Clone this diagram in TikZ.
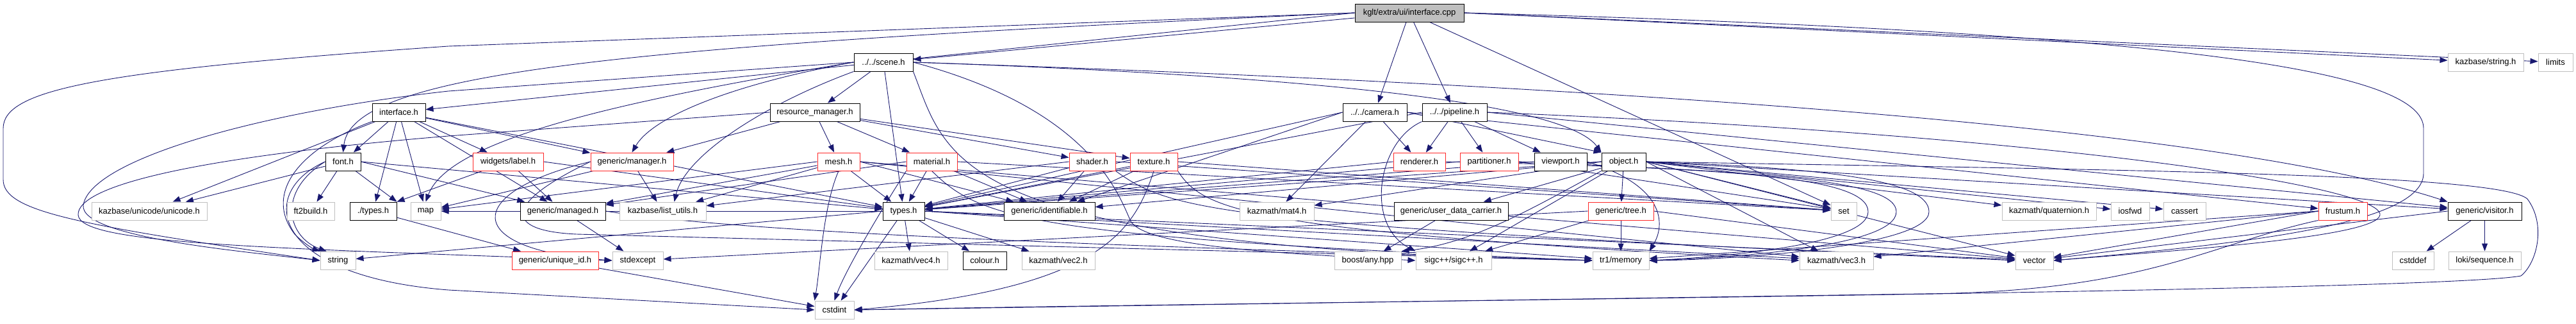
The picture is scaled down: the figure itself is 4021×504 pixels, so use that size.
\documentclass[tikz,border=0pt]{standalone}
\usepackage{fontspec}
\setmainfont{Liberation Sans}
\usetikzlibrary{arrows.meta}
\definecolor{navy}{RGB}{25,25,112}
\definecolor{lgray}{RGB}{191,191,191}
\definecolor{rootfill}{RGB}{191,191,191}
\definecolor{redb}{RGB}{255,40,40}
\pgfdeclarelayer{bg}
\pgfsetlayers{bg,main}
\tikzset{
  nbox/.style={rectangle, minimum height=28pt, inner sep=0pt, fill=white, line width=1pt, font=\fontsize{13pt}{15pt}\selectfont},
  bk/.style={nbox, draw=black},
  gr/.style={nbox, draw=lgray},
  rd/.style={nbox, draw=redb},
  rootbox/.style={nbox, draw=black, fill=rootfill},
  dep/.style={draw=navy, line width=0.9pt, -{Triangle[length=12pt,width=9pt]}}
}
\begin{document}
\begin{tikzpicture}[x=1pt,y=-1pt]
\useasboundingbox (0,0) rectangle (4021,504);
% row 0
\node[rootbox, minimum width=170pt] (cpp) at (2200,20) {kglt/extra/ui/interface.cpp};
% row 1
\node[bk, minimum width=92pt] (scene) at (1379,97) {../../scene.h};
\node[gr, minimum width=118pt] (kstring) at (3880,97) {kazbase/string.h};
\node[gr, minimum width=54pt] (limits) at (3989,97) {limits};
% row 2
\node[bk, minimum width=83pt] (interfaceh) at (622.5,175) {interface.h};
\node[bk, minimum width=140pt] (resman) at (1272,175) {resource\_manager.h};
\node[bk, minimum width=100pt] (camera) at (2146,175) {../../camera.h};
\node[bk, minimum width=101pt] (pipeline) at (2270.5,175) {../../pipeline.h};
% row 3
\node[bk, minimum width=55pt] (font) at (535.5,252) {font.h};
\node[rd, minimum width=110pt] (label) at (793,252) {widgets/label.h};
\node[rd, minimum width=129pt] (manager) at (986.5,252) {generic/manager.h};
\node[rd, minimum width=66pt] (mesh) at (1309,252) {mesh.h};
\node[rd, minimum width=79pt] (material) at (1454.5,252) {material.h};
\node[rd, minimum width=72pt] (shader) at (1705,252) {shader.h};
\node[rd, minimum width=74pt] (texture) at (1801,252) {texture.h};
\node[rd, minimum width=81pt] (renderer) at (2215.5,252) {renderer.h};
\node[rd, minimum width=91pt] (partitioner) at (2324.5,252) {partitioner.h};
\node[bk, minimum width=82pt] (viewport) at (2436,252) {viewport.h};
\node[bk, minimum width=69pt] (object) at (2534.5,252) {object.h};
% row 4
\node[gr, minimum width=180pt] (kunicode) at (233,329) {kazbase/unicode/unicode.h};
\node[gr, minimum width=74pt] (ft2build) at (485,329) {ft2build.h};
\node[bk, minimum width=73pt] (dtypes) at (582.5,329) {./types.h};
\node[gr, minimum width=47pt] (map) at (664.5,329) {map};
\node[bk, minimum width=133pt] (managed) at (878.5,329) {generic/managed.h};
\node[gr, minimum width=135pt] (listutils) at (1034.5,329) {kazbase/list\_utils.h};
\node[bk, minimum width=65pt] (types) at (1410.5,329) {types.h};
\node[bk, minimum width=142pt] (ident) at (1638,329) {generic/identifiable.h};
\node[gr, minimum width=116pt] (mat4) at (1993,329) {kazmath/mat4.h};
\node[bk, minimum width=178pt] (udc) at (2265,329) {generic/user\_data\_carrier.h};
\node[rd, minimum width=102pt] (tree) at (2530,329) {generic/tree.h};
\node[gr, minimum width=40pt] (set) at (2878,329) {set};
\node[gr, minimum width=147pt] (quat) at (3198.5,329) {kazmath/quaternion.h};
\node[gr, minimum width=60pt] (iosfwd) at (3325,329) {iosfwd};
\node[gr, minimum width=66pt] (cassert) at (3410,329) {cassert};
\node[rd, minimum width=76pt] (frustum) at (3657,329) {frustum.h};
\node[bk, minimum width=115pt] (visitor) at (3878.5,329) {generic/visitor.h};
% row 5
\node[gr, minimum width=55pt] (string) at (527.5,406) {string};
\node[rd, minimum width=135pt] (uid) at (866.5,406) {generic/unique\_id.h};
\node[gr, minimum width=79pt] (stdexcept) at (995.5,406) {stdexcept};
\node[gr, minimum width=114pt] (vec4) at (1422,406) {kazmath/vec4.h};
\node[bk, minimum width=68pt] (colour) at (1537,406) {colour.h};
\node[gr, minimum width=114pt] (vec2) at (1652,406) {kazmath/vec2.h};
\node[gr, minimum width=104pt] (boostany) at (2135,406) {boost/any.hpp};
\node[gr, minimum width=118pt] (sigc) at (2269,406) {sigc++/sigc++.h};
\node[gr, minimum width=88pt] (memory) at (2530,406) {tr1/memory};
\node[gr, minimum width=115pt] (vec3) at (2866.5,406) {kazmath/vec3.h};
\node[gr, minimum width=59pt] (vector) at (3175.5,406) {vector};
\node[gr, minimum width=65pt] (cstddef) at (3766.5,406) {cstddef};
\node[gr, minimum width=113pt] (loki) at (3878.5,406) {loki/sequence.h};
% row 6
\node[gr, minimum width=61pt] (cstdint) at (1302.5,483) {cstdint};

\begin{pgfonlayer}{bg}
% cpp
\draw[dep] (cpp) -- (scene);
\draw[dep] (cpp) -- (camera);
\draw[dep] (cpp) -- (pipeline);
\draw[dep] (cpp.west) -- (interfaceh);
\draw[dep] (cpp.west) .. controls (1000,70) and (550,110) .. (font.north);
\draw[dep] (cpp.west) -- (700,72) .. controls (150,110) and (5,140) .. (5,200) -- (5,280) .. controls (5,330) and (120,350) .. (string.west);
\draw[dep] (cpp.east) -- (kstring);
\draw[dep] (cpp.east) -- (limits);
\draw[dep] (cpp) -- (set);
\draw[dep] (cpp.east) .. controls (3400,50) and (3783,110) .. (3783,200) -- (3783,270) .. controls (3783,350) and (3500,380) .. (vector.east);
% scene
\draw[dep] (scene) -- (resman);
\draw[dep] (scene) -- (types);
\draw[dep] (scene.east) .. controls (2150,122) and (2450,170) .. (object.north west);
\draw[dep] (scene.east) .. controls (2700,140) and (3500,210) .. (visitor.north west);
\draw[dep] (scene.west) .. controls (1150,130) and (1020,180) .. (manager.north);
\draw[dep] (scene.south west) .. controls (1200,160) and (1070,240) .. ([xshift=-50pt]listutils.north east);
\draw[dep] (scene.west) .. controls (950,160) and (700,220) .. (map.north);
\draw[dep] (scene.west) -- (700,142) .. controls (400,175) and (140,250) .. (130,320) .. controls (125,370) and (380,392) .. (string.west);
\draw[dep] (scene.south east) .. controls (1480,250) and (1480,385) .. (memory.west);
\draw[dep] (scene.east) .. controls (1700,170) and (1745,300) .. (1765,345) .. controls (1790,385) and (2000,395) .. (sigc.west);
% interface.h
\draw[dep] (interfaceh) -- (font);
\draw[dep] (interfaceh) -- (kunicode);
\draw[dep] (interfaceh) -- (dtypes);
\draw[dep] (interfaceh) -- (map);
\draw[dep] (interfaceh) -- (label);
\draw[dep] (interfaceh) -- (manager);
\draw[dep] (interfaceh) -- (managed);
\draw[dep] (interfaceh) -- (types);
\draw[dep] (interfaceh.south west) .. controls (470,230) and (410,300) .. (460,365) .. controls (480,385) and (495,390) .. (string.north west);
% font
\draw[dep] (font) -- (kunicode);
\draw[dep] (font) -- (ft2build);
\draw[dep] (font) -- (dtypes.north east);
\draw[dep] (font.east) -- (managed);
\draw[dep] (font.east) -- (types);
\draw[dep] (font.west) .. controls (430,300) and (450,370) .. ([xshift=10pt]string.north west);
\draw[dep] (font.west) .. controls (400,300) and (420,430) .. (700,452) -- (cstdint.west);
% ./types.h
\draw[dep] (dtypes) -- (uid);
% label
\draw[dep] (label) -- (dtypes.north east);
\draw[dep] (label) -- (managed);
\draw[dep] (label.east) -- (types);
% manager
\draw[dep] (manager) -- (map);
\draw[dep] (manager) -- (listutils);
\draw[dep] (manager.west) .. controls (720,300) and (720,390) .. (stdexcept.west);
\draw[dep] (manager.west) .. controls (780,320) and (790,360) .. (900,365) -- (memory.west);
% managed
\draw[dep] (managed) -- (stdexcept);
\draw[dep] (managed.east) .. controls (1200,370) and (2000,390) .. (memory.west);
% unique_id
\draw[dep] (uid) -- (cstdint);
% resource_manager
\draw[dep] (resman) -- (mesh);
\draw[dep] (resman) -- (material);
\draw[dep] (resman) -- (shader);
\draw[dep] (resman) -- (texture);
\draw[dep] (resman) -- (manager);
\draw[dep] (resman.west) -- (700,212) .. controls (300,245) and (120,290) .. (122,335) .. controls (125,380) and (400,386) .. (stdexcept.west);
% mesh
\draw[dep] (mesh.west) -- (map);
\draw[dep] (mesh) -- (managed);
\draw[dep] (mesh) -- (listutils);
\draw[dep] (mesh.south) .. controls (1285,320) and (1280,420) .. (cstdint.north west);
\draw[dep] (mesh) -- (types);
\draw[dep] (mesh.east) -- (ident);
\draw[dep] (mesh.east) -- (vec3);
\draw[dep] (mesh.east) -- (vector);
% material
\draw[dep] (material) -- (types);
\draw[dep] (material.south west) .. controls (1380,320) and (1320,420) .. (cstdint.north);
\draw[dep] (material) -- (ident);
\draw[dep] (material.west) -- (managed);
\draw[dep] (material.south) .. controls (1530,340) and (1600,370) .. (memory.west);
\draw[dep] (material.east) -- (set);
% shader
\draw[dep] (shader) -- (types);
\draw[dep] (shader) -- (ident);
\draw[dep] (shader.west) -- (listutils);
\draw[dep] (shader.south east) .. controls (1830,330) and (1900,350) .. (vector.west);
\draw[dep] (shader.east) -- (set);
% texture
\draw[dep] (texture) -- (ident);
\draw[dep] (texture) -- (types);
\draw[dep] (texture.south) .. controls (1770,360) and (1720,450) .. (cstdint.east);
\draw[dep] (texture.south east) .. controls (1880,330) and (1950,360) .. (vec3.west);
\draw[dep] (texture.east) -- (set);
% camera
\draw[dep] (camera) -- (renderer);
\draw[dep] (camera) -- (mat4);
\draw[dep] (camera.east) -- (object.north west);
\draw[dep] (camera.west) -- (types);
\draw[dep] (camera.west) -- (ident);
\draw[dep] (camera.east) -- (frustum);
% pipeline
\draw[dep] (pipeline) -- (renderer);
\draw[dep] (pipeline) -- (partitioner);
\draw[dep] (pipeline) -- (viewport);
\draw[dep] (pipeline.south west) .. controls (2150,220) and (2130,350) .. (sigc.north west);
\draw[dep] (pipeline.west) -- (types);
\draw[dep] (pipeline.east) -- (visitor);
\draw[dep] (pipeline.east) .. controls (3200,210) and (3720,290) .. (3715,335) .. controls (3710,370) and (3400,390) .. (vector.east);
% renderer, partitioner, viewport
\draw[dep] (renderer.west) -- (types);
\draw[dep] (renderer.east) .. controls (2700,262) and (2916,275) .. (2916,330) .. controls (2916,380) and (2700,400) .. (memory.east);
\draw[dep] (partitioner.west) -- (types);
\draw[dep] (partitioner.east) -- (set);
\draw[dep] (partitioner.east) .. controls (2750,268) and (2960,280) .. (2960,330) .. controls (2960,385) and (2700,402) .. (memory.east);
\draw[dep] (viewport.west) -- (types);
\draw[dep] (viewport.east) .. controls (2600,290) and (2600,350) .. (memory.north east);
% object
\draw[dep] (object) -- (tree);
\draw[dep] (object) -- (udc);
\draw[dep] (object) -- (sigc);
\draw[dep] (object.south west) .. controls (2400,320) and (2300,380) .. (boostany.north east);
\draw[dep] (object.west) -- (types);
\draw[dep] (object.west) -- (ident);
\draw[dep] (object.west) -- (mat4);
\draw[dep] (object.east) -- (set);
\draw[dep] (object.east) -- (quat);
\draw[dep] (object.east) -- (vec3);
\draw[dep] (object.east) -- (vector);
\draw[dep] (object.east) -- (iosfwd);
\draw[dep] (object.east) -- (cassert);
\draw[dep] (object.east) -- (visitor);
\draw[dep] (object.east) .. controls (2850,262) and (3011,280) .. (3011,330) .. controls (3011,385) and (2700,405) .. (memory.east);
\draw[dep] (object.east) .. controls (3300,265) and (3900,270) .. (3945,310) .. controls (3975,350) and (3960,410) .. (3935,430) .. controls (3800,455) and (2000,470) .. (cstdint.east);
% user_data_carrier, tree
\draw[dep] (udc) -- (boostany);
\draw[dep] (tree) -- (memory);
\draw[dep] (tree) -- (sigc);
\draw[dep] (tree.east) -- (vector);
\draw[dep] (tree.west) -- (stdexcept);
% types.h
\draw[dep] (types) -- (cstdint);
\draw[dep] (types) -- (vec4);
\draw[dep] (types) -- (colour);
\draw[dep] (types) -- (vec2);
\draw[dep] (types.east) -- (vec3);
\draw[dep] (types.east) -- (vector);
\draw[dep] (types.east) -- (memory);
\draw[dep] (types.west) -- (string);
\draw[dep] (types.west) -- (map);
% frustum
\draw[dep] (frustum.west) -- (vec3);
\draw[dep] (frustum.west) -- (vector);
\draw[dep] (frustum.west) -- (memory);
\draw[dep] (frustum.south west) .. controls (3450,380) and (3350,455) .. (3000,458) -- (cstdint.east);
% visitor
\draw[dep] (visitor) -- (cstddef);
\draw[dep] (visitor) -- (loki);
\draw[dep] (visitor.west) -- (vector);
\end{pgfonlayer}
\end{tikzpicture}
\end{document}
